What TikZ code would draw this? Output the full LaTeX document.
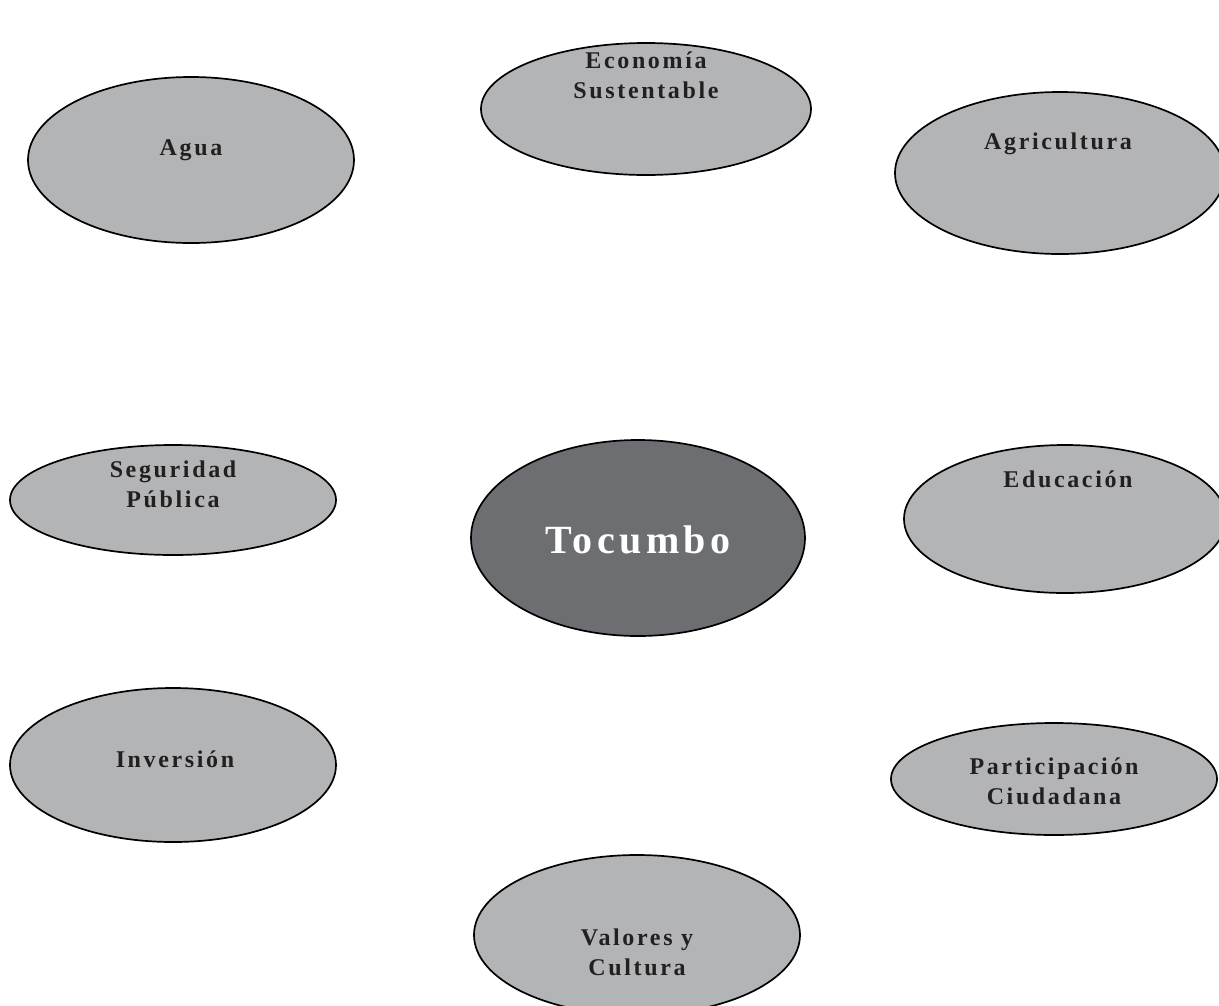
\documentclass[tikz,border=0pt]{standalone}
\usepackage{fontspec}
\setmainfont{Liberation Serif}
\usetikzlibrary{shapes.geometric}
\definecolor{lightfill}{RGB}{179,180,182}
\definecolor{darkfill}{RGB}{109,110,113}
\definecolor{ink}{RGB}{35,31,32}
\tikzset{
  bubble/.style={ellipse, draw=black, line width=1.7pt, fill=lightfill, inner sep=0pt},
  lbl/.style={text=ink, inner sep=0pt, anchor=base, align=center,
    font=\fontsize{24}{30}\selectfont\bfseries\addfontfeatures{LetterSpace=11}},
  biglbl/.style={text=white, inner sep=0pt, anchor=base,
    font=\fontsize{40}{46}\selectfont\bfseries\addfontfeatures{LetterSpace=11}}
}
\begin{document}
\begin{tikzpicture}[x=1pt,y=-1pt]
\clip (0,0) rectangle (1219,1005);
\fill[white] (0,0) rectangle (1219,1005);
% ellipses
\node[bubble, minimum width=330pt, minimum height=132pt] (eco) at (646,109) {};
\node[bubble, minimum width=326pt, minimum height=166pt] (agua) at (191,160) {};
\node[bubble, minimum width=330pt, minimum height=162pt] (agri) at (1060,173) {};
\node[bubble, minimum width=326pt, minimum height=110pt] (seg) at (173,500) {};
\node[bubble, fill=darkfill, minimum width=334pt, minimum height=196pt] (toc) at (638,538) {};
\node[bubble, minimum width=322pt, minimum height=148pt] (edu) at (1065,519) {};
\node[bubble, minimum width=326pt, minimum height=154pt] (inv) at (173,765) {};
\node[bubble, minimum width=326pt, minimum height=112pt] (par) at (1054,779) {};
\node[bubble, minimum width=326pt, minimum height=160pt] (val) at (637,935) {};
% labels
\node[lbl] (ecot) at (646,98) {Economía\\Sustentable};
\node[lbl] (aguat) at (191,155) {Agua};
\node[lbl] (agrit) at (1058,149) {Agricultura};
\node[lbl] (segt) at (173,507) {Seguridad\\Pública};
\node[biglbl] (toct) at (638,553) {Tocumbo};
\node[lbl] (edut) at (1068,487) {Educación};
\node[lbl] (invt) at (175,767) {Inversión};
\node[lbl] (part) at (1054,804) {Participación\\Ciudadana};
\node[lbl] (valt) at (637,975) {Valores y\\Cultura};
\end{tikzpicture}
\end{document}
